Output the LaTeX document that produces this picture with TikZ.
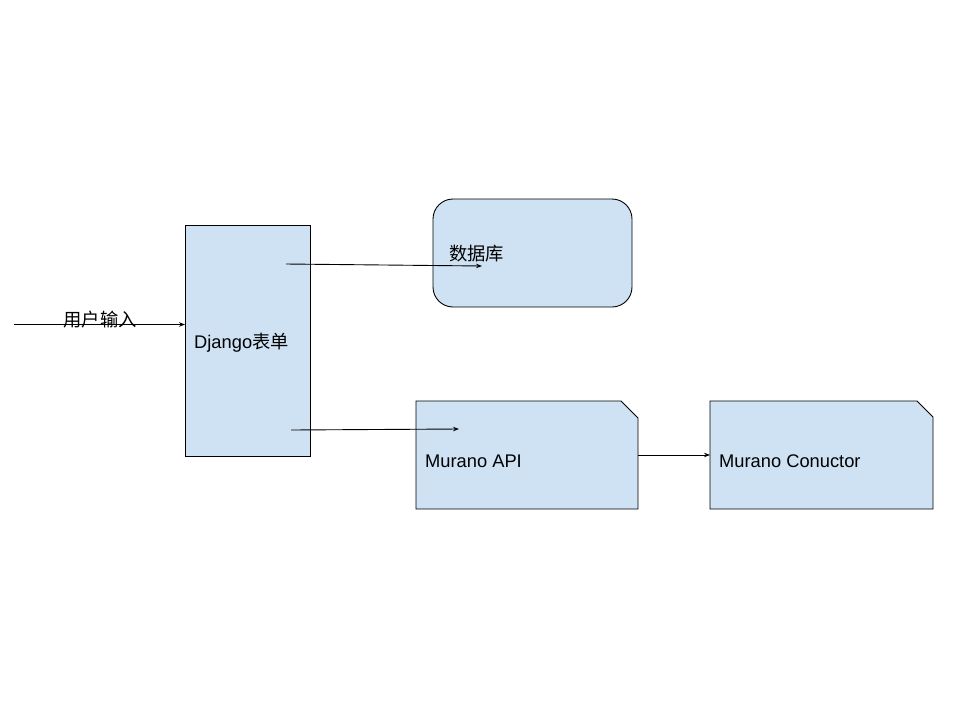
\documentclass[tikz,border=0pt]{standalone}
\usepackage{fontspec}
\setmainfont{Liberation Sans}
\newfontfamily\cjk{Noto Sans CJK SC}
\usetikzlibrary{arrows.meta}
\definecolor{boxfill}{HTML}{CFE2F3}
\begin{document}
\begin{tikzpicture}[x=1pt,y=-1pt,
  box/.style={draw=black,fill=boxfill,line width=0.9pt,inner sep=0pt,outer sep=0pt},
  txt/.style={anchor=west,inner sep=0pt,font=\fontsize{18.3}{20}\selectfont},
  conn/.style={line width=0.9pt,-{Stealth[length=6pt,width=4.5pt]}}]
\useasboundingbox (0,0) rectangle (960,720);
% Django form
\node[box,minimum width=125pt,minimum height=231pt] (django) at (247.5,340.5) {};
\node[txt] (djt) at (194,343) {Django{\cjk 表单}};
% Database
\node[box,rounded corners=20pt,minimum width=199pt,minimum height=108pt] (db) at (532.5,253) {};
\node[txt] (dbt) at (449,254) {\cjk 数据库};
% Murano API (folded corner)
\node[minimum width=222pt,minimum height=108pt,inner sep=0pt,outer sep=0pt] (api) at (527,455) {};
\fill[boxfill] (api.north west) -- ([xshift=-17pt]api.north east) -- ([yshift=-17pt]api.north east) -- (api.south east) -- (api.south west) -- cycle;
\draw[line width=0.9pt] (api.north west) -- ([xshift=-17pt]api.north east) -- ([yshift=-17pt]api.north east) -- (api.south east) -- (api.south west) -- cycle;
\node[txt] (apit) at (425,461) {Murano API};
% Murano Conductor (folded corner)
\node[minimum width=223pt,minimum height=108pt,inner sep=0pt,outer sep=0pt] (cond) at (821.5,455) {};
\fill[boxfill] (cond.north west) -- ([xshift=-16pt]cond.north east) -- ([yshift=-16pt]cond.north east) -- (cond.south east) -- (cond.south west) -- cycle;
\draw[line width=0.9pt] (cond.north west) -- ([xshift=-16pt]cond.north east) -- ([yshift=-16pt]cond.north east) -- (cond.south east) -- (cond.south west) -- cycle;
\node[txt] (condt) at (719,461) {Murano Conuctor};
% connectors
\coordinate (in) at (14,324.5);
\draw[conn] (in) -- (in -| django.west);
\node[font=\cjk\fontsize{18.3}{20}\selectfont,inner sep=0pt] (inl) at (100,320) {用户输入};
\coordinate (d1) at (286,264);
\coordinate (d2) at (291,430);
\coordinate (dbin) at (482,266);
\coordinate (apiin) at (459,429);
\draw[conn] (d1) -- (dbin);
\draw[conn] (d2) -- (apiin);
\draw[conn] (api.east) -- (cond.west);
\end{tikzpicture}
\end{document}
